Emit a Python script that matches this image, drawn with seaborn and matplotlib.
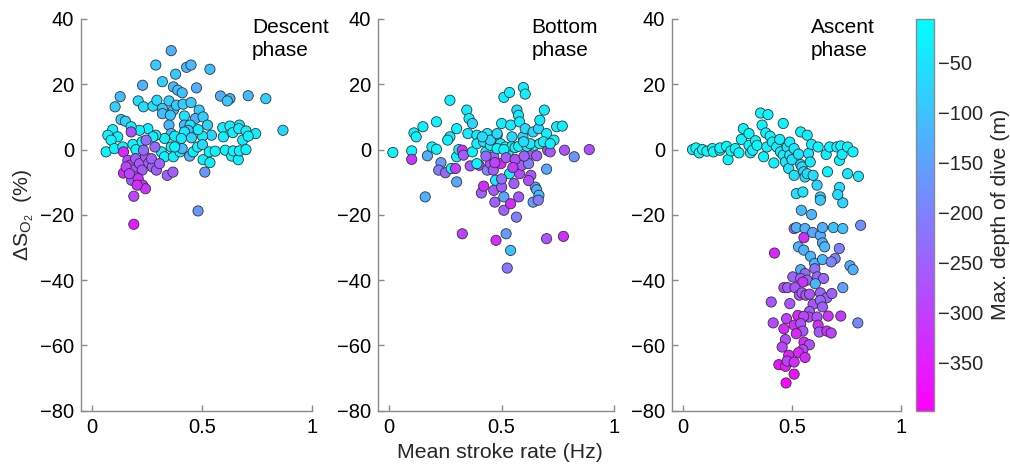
import numpy as np
import pandas as pd
import matplotlib
matplotlib.use("Agg")
import matplotlib.pyplot as plt
import seaborn as sns
from matplotlib.colors import Normalize
from matplotlib.cm import ScalarMappable

# ---------------- data ----------------
desc_rate = [0.36, 0.29, 0.43, 0.45, 0.536, 0.38, 0.23, 0.32, 0.37, 0.39, 0.41, 0.475, 0.128, 0.584, 0.627,
             0.615, 0.71, 0.79, 0.105, 0.21, 0.234, 0.277, 0.295, 0.32, 0.32, 0.35, 0.37, 0.384, 0.414, 0.45,
             0.487, 0.356, 0.42, 0.47, 0.505, 0.132, 0.152, 0.525, 0.35, 0.42, 0.446, 0.594, 0.627, 0.67, 0.64,
             0.667, 0.70, 0.744, 0.868, 0.685, 0.71, 0.597, 0.543, 0.502, 0.482, 0.437, 0.42, 0.452, 0.36, 0.376,
             0.406, 0.33, 0.29, 0.254, 0.216, 0.178, 0.094, 0.072, 0.117, 0.087, 0.064, 0.102, 0.14, 0.186, 0.2,
             0.228, 0.277, 0.315, 0.33, 0.36, 0.37, 0.40, 0.41, 0.444, 0.46, 0.48, 0.502, 0.505, 0.536, 0.533,
             0.56, 0.606, 0.635, 0.665, 0.642, 0.67, 0.70, 0.482, 0.513, 0.376,
             0.178, 0.143, 0.143, 0.163, 0.173, 0.186, 0.198, 0.216, 0.228, 0.2, 0.18, 0.21, 0.23, 0.243, 0.205,
             0.19, 0.19, 0.243, 0.258, 0.274, 0.27, 0.286, 0.293, 0.307, 0.342, 0.368, 0.246, 0.234, 0.155, 0.17]
desc_dso2 = [30.3, 25.9, 25.2, 25.9, 24.6, 23.1, 19.7, 20.8, 19.2, 18.2, 17.4, 18.9, 16.2, 16.4, 15.6,
             14.9, 16.5, 15.6, 13.1, 14.9, 13.1, 13.3, 15.1, 12.6, 11.0, 14.9, 12.1, 13.6, 13.9, 14.4,
             12.1, 10.5, 10.3, 9.5, 10.0, 9.2, 8.7, 7.5, 7.5, 7.5, 7.5, 6.7, 7.2, 7.5, 5.2,
             6.4, 5.7, 4.9, 5.9, 2.9, 4.1, 3.9, 4.4, 4.1, 6.1, 5.9, 5.4, 3.6, 4.9, 4.1,
             3.4, 3.4, 4.4, 6.4, 5.9, 7.0, 6.1, 4.4, 3.9, 2.9, -0.7, 0.3, 0.8, 1.6, 0.0,
             2.4, 3.9, -0.7, -2.2, 0.8, -2.2, -0.7, 0.3, -2.0, -0.7, 0.8, 1.5, -3.1, -4.0, -0.7,
             -0.5, -0.2, -2.0, -3.1, -0.4, -0.4, 0.0, -18.8, -6.9, 0.8,
             5.4, -0.7, -7.2, -3.3, -4.8, -6.3, -2.8, -4.3, -6.3, -8.4, -9.4, -8.9, -10.9, -12.0, -10.9,
             -14.3, -22.9, -2.2, -4.1, -5.3, -2.8, 0.8, -6.3, -4.3, -7.9, -6.9, 2.9, -0.2, -5.3, -7.4]
desc_depth = [-130, -85, -120, -115, -105, -90, -125, -80, -110, -105, -100, -130, -110, -130, -120,
              -90, -110, -80, -80, -60, -60, -55, -60, -85, -110, -80, -110, -85, -85, -90,
              -85, -90, -50, -130, -80, -80, -80, -75, -115, -115, -40, -35, -35, -40, -35,
              -35, -35, -30, -65, -30, -30, -30, -70, -40, -35, -115, -40, -75, -110, -30,
              -30, -30, -30, -30, -30, -30, -30, -25, -25, -25, -20, -20, -20, -25, -20,
              -25, -30, -20, -25, -25, -30, -30, -115, -125, -30, -20, -70, -30, -30, -25,
              -20, -20, -25, -30, -25, -25, -25, -165, -170, -25,
              -270, -335, -345, -290, -285, -275, -260, -270, -265, -280, -270, -320, -330, -320, -330,
              -295, -355, -260, -265, -250, -255, -240, -255, -250, -250, -250, -230, -235, -300, -290]

bot_rate = [0.016, 0.10, 0.10, 0.11, 0.12, 0.15, 0.17, 0.16, 0.19, 0.21, 0.21, 0.23, 0.22, 0.25, 0.27,
            0.27, 0.26, 0.276, 0.295, 0.30, 0.30, 0.30, 0.31, 0.325, 0.33, 0.345, 0.355, 0.36, 0.35, 0.37,
            0.37, 0.325, 0.39, 0.40, 0.41, 0.39, 0.41, 0.42, 0.436, 0.43, 0.436, 0.45, 0.465, 0.463, 0.465,
            0.47, 0.473, 0.475, 0.48, 0.487, 0.497, 0.50, 0.50, 0.51, 0.51, 0.51, 0.535, 0.52, 0.54, 0.525,
            0.535, 0.53, 0.54, 0.54, 0.555, 0.566, 0.576, 0.568, 0.575, 0.58, 0.597, 0.605, 0.58, 0.59, 0.595,
            0.605, 0.62, 0.63, 0.62, 0.64, 0.645, 0.65, 0.64, 0.656, 0.666, 0.663, 0.656, 0.664, 0.67, 0.69,
            0.70, 0.70, 0.70, 0.705, 0.716, 0.733, 0.745, 0.77, 0.78, 0.775, 0.823, 0.89,
            0.39, 0.42, 0.45, 0.495, 0.517, 0.546, 0.56, 0.576, 0.613, 0.627, 0.67, 0.686, 0.716, 0.48, 0.51,
            0.45, 0.414, 0.48, 0.546, 0.598,
            0.52, 0.56, 0.60, 0.47, 0.55, 0.43, 0.50, 0.62]
bot_dso2 = [-0.9, -0.4, -3.0, 5.1, 3.9, 7.0, -1.9, -14.5, 0.8, 0.1, 8.5, -4.0, -6.3, -7.1, 15.1,
            3.9, 2.9, -5.8, -5.8, -9.9, 6.4, -2.2, 0.0, -0.2, -1.7, 12.1, 9.5, -5.0, 4.9, 8.0,
            -0.7, -25.8, 4.4, -4.8, 2.9, -4.3, -13.3, -11.2, 4.9, -0.7, -6.3, -4.3, -2.2, -6.3, -12.5,
            -16.1, -9.4, -27.8, 4.4, 0.8, -4.3, 8.0, -11.5, -18.6, -14.5, 16.0, 17.5, -25.8, -30.9, -36.3,
            -7.4, -0.7, 7.5, -16.6, -10.4, -20.7, -14.5, 12.1, 10.5, 8.5, 19.0, 17.0, -7.4, -4.8, 3.9,
            6.4, -1.7, -7.9, -4.3, 5.4, 1.3, -11.5, -16.1, -12.3, -14.0, -15.5, -1.9, 6.4, 9.0, 12.1,
            4.9, -6.0, -27.3, -0.2, -0.7, 2.9, 7.0, 7.2, -0.2, -26.6, -2.2, 0.0,
            1.8, 2.4, 1.3, 1.8, 0.8, 1.0, 0.6, 1.0, 1.0, 1.8, 1.8, 2.4, 1.8, 0.3, 0.0,
            2.9, 3.9, 4.9, 3.9, 2.4,
            -2.5, -3.0, -2.0, -4.0, -5.5, -2.0, -9.0, -9.5]
bot_depth = [-20, -20, -315, -25, -25, -25, -130, -125, -20, -20, -25, -160, -210, -245, -30,
             -30, -30, -25, -300, -140, -25, -30, -20, -320, -260, -30, -35, -260, -40, -70,
             -25, -300, -30, -330, -75, -20, -250, -330, -30, -25, -185, -270, -260, -265, -260,
             -250, -35, -330, -70, -25, -335, -30, -255, -250, -140, -30, -35, -160, -100, -220,
             -25, -25, -35, -335, -255, -205, -265, -60, -35, -35, -30, -30, -290, -260, -70,
             -70, -260, -265, -200, -70, -25, -140, -160, -130, -110, -210, -260, -70, -40, -40,
             -35, -140, -270, -275, -265, -30, -30, -30, -270, -330, -170, -275,
             -30, -60, -30, -40, -25, -20, -25, -30, -25, -40, -35, -30, -30, -20, -20,
             -70, -60, -60, -70, -60,
             -260, -280, -250, -300, -310, -240, -230, -280]

asc_rate = [0.044, 0.06, 0.075, 0.09, 0.11, 0.135, 0.14, 0.17, 0.17, 0.20, 0.207, 0.22, 0.24, 0.257, 0.268,
            0.277, 0.303, 0.303, 0.31, 0.32, 0.333, 0.34, 0.356, 0.363, 0.37, 0.38, 0.385, 0.39, 0.40, 0.41,
            0.417, 0.43, 0.444, 0.447, 0.46, 0.46, 0.47, 0.478, 0.485, 0.49, 0.49, 0.50, 0.51, 0.51, 0.52,
            0.53, 0.54, 0.54, 0.546, 0.55, 0.554, 0.56, 0.57, 0.57, 0.576, 0.584, 0.59, 0.597, 0.615, 0.62,
            0.63, 0.63, 0.657, 0.663, 0.673, 0.706, 0.718, 0.718, 0.724, 0.73, 0.733, 0.71, 0.755, 0.755, 0.78,
            0.805,
            0.543, 0.59, 0.51, 0.52, 0.56, 0.555, 0.595, 0.63, 0.64, 0.64, 0.65, 0.69, 0.733, 0.815, 0.42,
            0.53, 0.554, 0.585, 0.604, 0.64, 0.698, 0.68, 0.717, 0.766, 0.78, 0.733, 0.802, 0.54, 0.56, 0.605,
            0.504, 0.54, 0.57, 0.616, 0.645, 0.607, 0.55, 0.463, 0.48, 0.514, 0.534, 0.546, 0.564, 0.581, 0.63,
            0.66, 0.683, 0.597, 0.63, 0.64, 0.405, 0.49, 0.58, 0.577, 0.615, 0.666, 0.724, 0.527, 0.554, 0.475,
            0.414, 0.463, 0.51, 0.54, 0.55, 0.62, 0.625, 0.66, 0.68, 0.52, 0.47, 0.455, 0.555, 0.58, 0.55,
            0.53, 0.485, 0.56, 0.44, 0.47, 0.478, 0.51, 0.51, 0.473]
asc_dso2 = [0.0, 0.5, -1.0, 0.0, -0.5, 0.3, -0.7, -0.2, 0.5, 1.0, -3.1, -0.4, 0.3, -1.0, 3.1,
            6.4, 4.9, 1.3, -1.0, -0.2, 2.7, 1.3, 11.2, 7.5, -2.2, 5.1, 0.8, 10.7, 4.1, 2.3,
            -4.1, 0.8, 3.1, -0.7, 8.0, -1.7, -3.8, 0.8, -5.8, 2.3, -1.7, -3.1, -7.9, 0.3, -13.5,
            -1.4, 5.4, -4.6, -5.3, -13.0, -6.8, -8.4, 4.4, -7.4, -1.2, -3.8, 1.6, -7.9, -10.9, 0.8,
            -14.5, -15.5, -1.5, -6.8, 0.8, 0.8, -3.3, -11.6, 1.1, -1.5, -16.3, -13.8, 0.8, -7.4, -0.7,
            -8.2,
            -18.6, -19.9, -24.2, -23.9, -24.2, -27.0, -25.4, -26.3, -23.9, -28.6, -29.8, -23.9, -24.2, -23.2, -31.7,
            -29.8, -30.8, -32.7, -34.9, -33.7, -33.4, -34.4, -30.3, -35.6, -36.8, -42.3, -53.1, -36.8, -38.0, -36.5,
            -39.0, -39.5, -40.0, -39.0, -39.5, -41.1, -40.6, -42.3, -42.3, -42.3, -44.6, -43.9, -44.6, -44.3, -43.9,
            -45.4, -44.1, -47.4, -46.2, -48.2, -46.7, -47.2, -49.6, -51.3, -51.3, -51.0, -51.0, -50.8, -51.1, -51.8,
            -53.1, -54.9, -53.8, -53.3, -55.6, -53.8, -55.9, -55.6, -56.2, -56.4, -58.2, -60.5, -59.0, -59.8, -61.3,
            -62.2, -63.0, -63.7, -65.9, -66.4, -64.8, -65.1, -68.8, -71.5]
asc_depth = [-15, -15, -15, -15, -15, -15, -15, -15, -15, -15, -15, -15, -15, -20, -20,
             -20, -20, -20, -20, -20, -20, -20, -25, -25, -25, -25, -25, -25, -25, -30,
             -30, -30, -30, -35, -25, -40, -45, -40, -50, -35, -45, -55, -55, -40, -50,
             -50, -30, -55, -60, -50, -60, -55, -30, -55, -45, -40, -30, -60, -70, -25,
             -85, -90, -30, -25, -25, -25, -30, -55, -25, -30, -70, -60, -25, -45, -25,
             -45,
             -115, -120, -230, -130, -125, -330, -145, -130, -130, -125, -115, -100, -100, -175, -340,
             -125, -125, -120, -120, -115, -195, -190, -205, -135, -130, -150, -185, -125, -240, -230,
             -245, -250, -245, -240, -240, -120, -320, -275, -260, -265, -265, -260, -270, -270, -245,
             -250, -250, -265, -240, -255, -270, -270, -260, -295, -265, -320, -310, -340, -300, -300,
             -285, -330, -330, -275, -270, -330, -260, -330, -300, -340, -285, -290, -335, -280, -300,
             -340, -345, -340, -370, -360, -300, -330, -375, -390]

phase_titles = ["Descent\nphase", "Bottom\nphase", "Ascent\nphase"]
x_ticks = [0, 0.5, 1]
x_tick_labels = ["0", "0.5", "1"]
y_ticks = [-80, -60, -40, -20, 0, 20, 40]
cbar_ticks = [-350, -300, -250, -200, -150, -100, -50]
depth_min, depth_max = -398, -7

# ---------------- style ----------------
sns.set_theme(style="ticks")
plt.rcParams["font.family"] = ["Liberation Sans", "DejaVu Sans"]
plt.rcParams["mathtext.fontset"] = "custom"
plt.rcParams["mathtext.rm"] = "Liberation Sans"
plt.rcParams["mathtext.it"] = "Liberation Sans:italic"

fig = plt.figure(figsize=(10.1, 4.66), dpi=100)
W, H = 1010, 466
bottom_px, top_px = 410.7, 19
ax_rects = [(81, 312), (378, 614), (672, 901)]
text_x = [0.727, 0.633, 0.588]

panels = [
    pd.DataFrame({"rate": desc_rate, "dso2": desc_dso2, "depth": desc_depth}),
    pd.DataFrame({"rate": bot_rate, "dso2": bot_dso2, "depth": bot_depth}),
    pd.DataFrame({"rate": asc_rate, "dso2": asc_dso2, "depth": asc_depth}),
]

cmap = "cool_r"
norm = Normalize(vmin=depth_min, vmax=depth_max)
spine_col = "#8a8a8a"
fs_tick = 14.5
fs_lab = 15.3

axes = []
for i, (df, (l, r)) in enumerate(zip(panels, ax_rects)):
    ax = fig.add_axes([l / W, (H - bottom_px) / H, (r - l) / W, (bottom_px - top_px) / H])
    sns.scatterplot(data=df, x="rate", y="dso2", hue="depth", palette=cmap, hue_norm=norm,
                    s=54, edgecolor="#333333", linewidth=0.6, legend=False, ax=ax, zorder=3)
    ax.set_xlim(-0.05, 1.0)
    ax.set_ylim(-80, 40)
    ax.set_xticks(x_ticks)
    ax.set_xticklabels(x_tick_labels)
    ax.set_yticks(y_ticks)
    ax.set_xlabel("")
    ax.set_ylabel("")
    for s in ["top", "right"]:
        ax.spines[s].set_visible(False)
    for s in ["left", "bottom"]:
        ax.spines[s].set_color(spine_col)
        ax.spines[s].set_linewidth(1.0)
    ax.tick_params(direction="in", length=4, width=1, color=spine_col, labelsize=fs_tick,
                   labelcolor="black", pad=5)
    ax.text(text_x[i], 40.3, phase_titles[i], ha="left", va="top", fontsize=15,
            linespacing=1.25, color="black")
    axes.append(ax)

fig.text(24 / W, 1 - 215 / H, r"$\mathrm{\Delta S_{O_2}}$  (%)", rotation=90,
         ha="center", va="center", fontsize=fs_lab)
fig.text(500 / W, 1 - 452 / H, "Mean stroke rate (Hz)", ha="center", va="center", fontsize=fs_lab)

cax = fig.add_axes([916 / W, (H - bottom_px) / H, 17.5 / W, (bottom_px - top_px) / H])
sm = ScalarMappable(norm=norm, cmap=cmap)
cb = fig.colorbar(sm, cax=cax)
cb.set_ticks(cbar_ticks)
cb.outline.set_edgecolor(spine_col)
cb.outline.set_linewidth(1.0)
cax.tick_params(direction="in", length=3, color=spine_col, labelsize=fs_tick, pad=3)
fig.text(1000 / W, 1 - 214 / H, "Max. depth of dive (m)", rotation=90,
         ha="center", va="center", fontsize=fs_lab)

fig.savefig("out.png", dpi=100)
